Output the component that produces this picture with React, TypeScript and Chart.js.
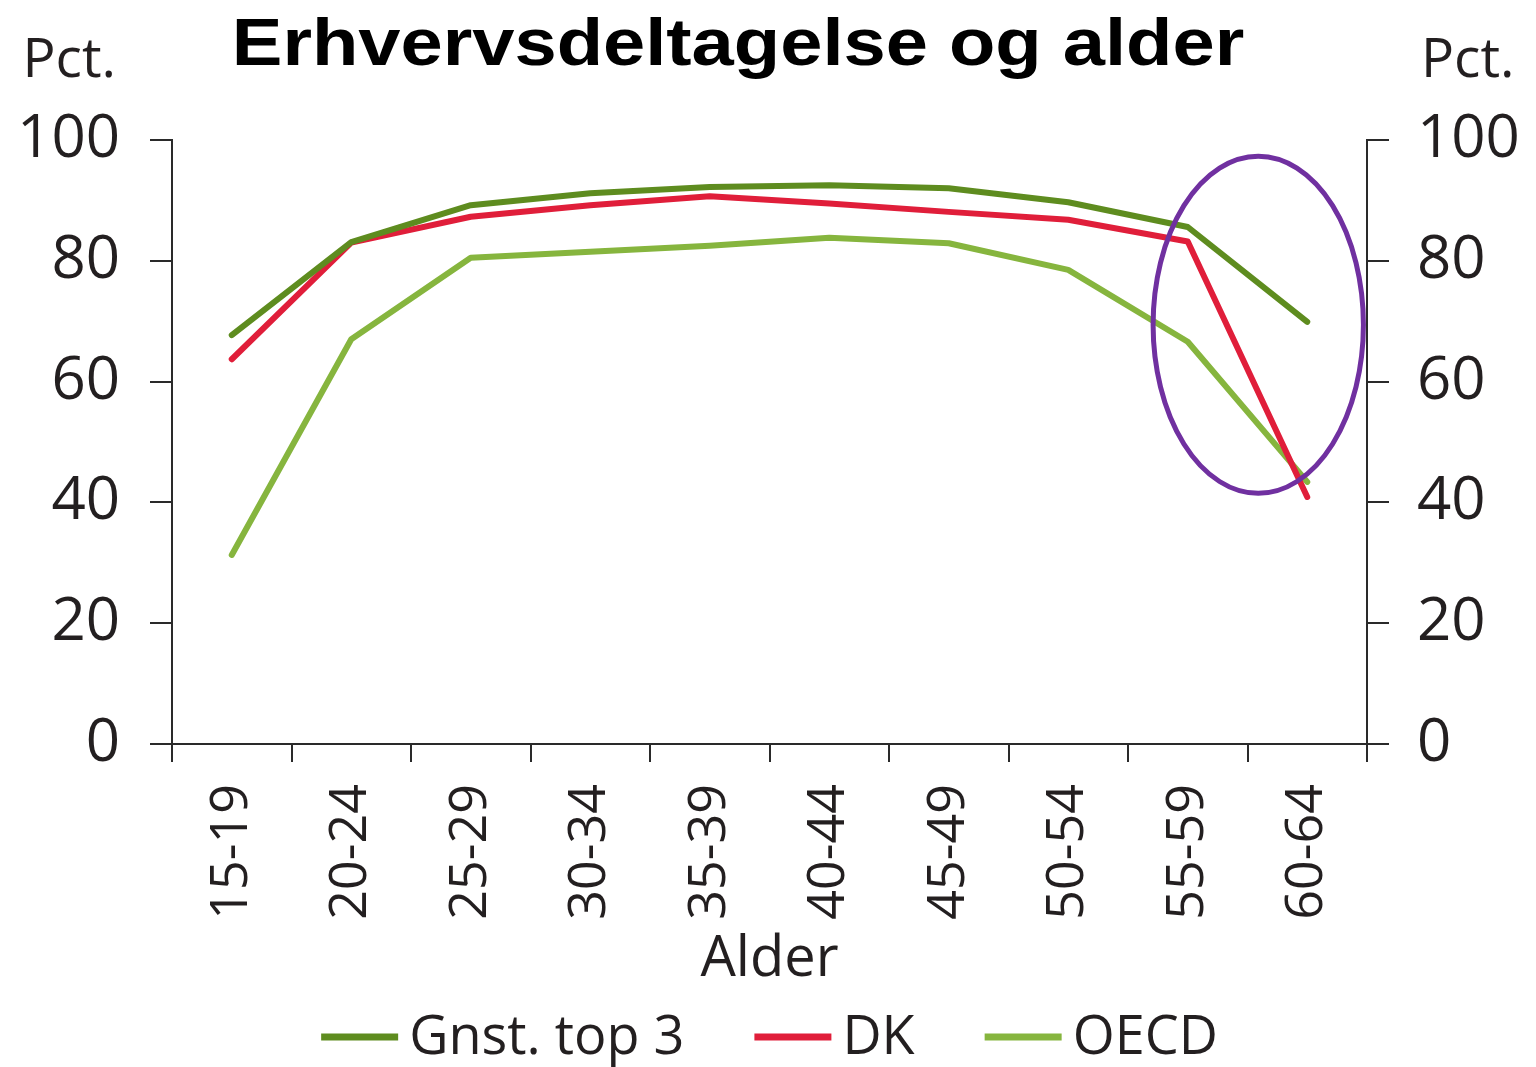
import React, { useEffect, useRef } from "react";
import { Chart, registerables } from "chart.js";

Chart.register(...registerables);

const chartTitle = "Erhvervsdeltagelse og alder";
const unitLabel = "Pct.";
const xAxisTitle = "Alder";
const categories = ["15-19", "20-24", "25-29", "30-34", "35-39", "40-44", "45-49", "50-54", "55-59", "60-64"];
const seriesNames = ["Gnst. top 3", "DK", "OECD"];
const gnstTop3 = [67.7, 83.1, 89.2, 91.2, 92.2, 92.5, 92.0, 89.7, 85.6, 69.9];
const dk = [63.7, 83.0, 87.3, 89.2, 90.7, 89.5, 88.1, 86.8, 83.2, 40.9];
const oecd = [31.3, 67.0, 80.5, 81.5, 82.5, 83.8, 82.9, 78.5, 66.6, 43.4];
const yMin = 0;
const yMax = 100;
const yStep = 20;
// highlight ellipse in data units: center category index, center value, radii
const ellipseCenterIndex = [8.59];
const ellipseCenterValue = [69.4];
const ellipseRadiusIndex = [0.88];
const ellipseRadiusValue = [27.9];

const colors = ["#5E8C1F", "#E01E3A", "#86B53E"];
const textColor = "#231F20";
const axisColor = "#2a2a2a";
const FONT = "'Open Sans', 'Noto Sans', sans-serif";

const overlayPlugin = {
  id: "overlay",
  afterDatasetsDraw(chart: any) {
    const ctx = chart.ctx;
    const x = chart.scales.x;
    const y = chart.scales.y;
    ctx.save();
    ctx.strokeStyle = "#7030A0";
    ctx.lineWidth = 5;
    for (let i = 0; i < ellipseCenterIndex.length; i++) {
      const cx = x.getPixelForValue(ellipseCenterIndex[i]);
      const cy = y.getPixelForValue(ellipseCenterValue[i]);
      const rx = Math.abs(x.getPixelForValue(ellipseCenterIndex[i] + ellipseRadiusIndex[i]) - cx);
      const ry = Math.abs(y.getPixelForValue(ellipseCenterValue[i] + ellipseRadiusValue[i]) - cy);
      ctx.beginPath();
      ctx.ellipse(cx, cy, rx, ry, 0, 0, Math.PI * 2);
      ctx.stroke();
    }
    ctx.restore();
  },
  afterDraw(chart: any) {
    const ctx = chart.ctx;
    const area = chart.chartArea;
    ctx.save();
    // Title (wide bold sans)
    ctx.fillStyle = "#000";
    ctx.font = "bold 66px 'Liberation Sans', Arial, sans-serif";
    ctx.textBaseline = "alphabetic";
    ctx.textAlign = "center";
    const sx = 1.15;
    ctx.save();
    ctx.translate(738, 65);
    ctx.scale(sx, 1);
    ctx.fillText(chartTitle, 0, 0);
    ctx.restore();

    // Unit labels
    ctx.fillStyle = textColor;
    ctx.font = `55px ${FONT}`;
    ctx.textAlign = "right";
    ctx.fillText(unitLabel, 116, 77);
    ctx.textAlign = "left";
    ctx.fillText(unitLabel, 1421, 77);

    // Legend
    const lineLen = 77;
    const gapText = 11;
    const gapItem = 70;
    ctx.font = `54px ${FONT}`;
    const items = chart.data.datasets.map((d: any) => ({
      label: d.label,
      color: d.borderColor,
      w: ctx.measureText(d.label).width,
    }));
    let total = 0;
    items.forEach((it: any, i: number) => {
      total += lineLen + gapText + it.w + (i < items.length - 1 ? gapItem : 0);
    });
    let lx = (area.left + area.right) / 2 - total / 2;
    const ly = 1037;
    items.forEach((it: any) => {
      ctx.strokeStyle = it.color;
      ctx.lineWidth = 7;
      ctx.lineCap = "butt";
      ctx.beginPath();
      ctx.moveTo(lx, ly);
      ctx.lineTo(lx + lineLen, ly);
      ctx.stroke();
      ctx.fillStyle = textColor;
      ctx.textAlign = "left";
      ctx.textBaseline = "middle";
      ctx.fillText(it.label, lx + lineLen + gapText, ly + 2);
      lx += lineLen + gapText + it.w + gapItem;
    });
    ctx.restore();
  },
};

export default function App() {
  const ref = useRef<HTMLCanvasElement | null>(null);
  useEffect(() => {
    document.body.style.margin = "0";
    const canvas = ref.current;
    if (!canvas) return;
    const values = [gnstTop3, dk, oecd];
    const chart = new Chart(canvas, {
      type: "line",
      data: {
        labels: categories,
        datasets: values.map((v, i) => ({
          label: seriesNames[i],
          data: v,
          borderColor: colors[i],
          backgroundColor: colors[i],
          borderWidth: 6,
          pointRadius: 0,
          tension: 0,
          fill: false,
          borderCapStyle: "round" as const,
          borderJoinStyle: "round" as const,
          yAxisID: "y",
        })),
      },
      options: {
        animation: false,
        responsive: false,
        maintainAspectRatio: false,
        layout: { padding: { top: 140, bottom: 73, left: 0, right: 0 } },
        plugins: {
          legend: { display: false },
          title: { display: false },
          tooltip: { enabled: false },
        },
        scales: {
          x: {
            type: "category",
            offset: true,
            grid: {
              offset: true,
              drawOnChartArea: false,
              drawTicks: true,
              tickLength: 18,
              color: axisColor,
              lineWidth: 2,
            },
            border: { display: true, color: axisColor, width: 2 },
            ticks: {
              autoSkip: false,
              minRotation: 90,
              maxRotation: 90,
              padding: 22,
              color: textColor,
              font: { family: FONT, size: 52 },
            },
            title: {
              display: true,
              text: xAxisTitle,
              color: textColor,
              font: { family: FONT, size: 56 },
              padding: { top: 0, bottom: 0 },
            },
            afterFit: (s: any) => {
              s.height = 250;
            },
          },
          y: {
            type: "linear",
            position: "left",
            min: yMin,
            max: yMax,
            ticks: {
              stepSize: yStep,
              padding: 30,
              color: textColor,
              font: { family: FONT, size: 60 },
            },
            grid: {
              drawOnChartArea: false,
              drawTicks: true,
              tickLength: 22,
              color: axisColor,
              lineWidth: 2,
            },
            border: { display: true, color: axisColor, width: 2 },
            afterFit: (s: any) => {
              s.width = 172;
            },
          },
          y2: {
            type: "linear",
            position: "right",
            min: yMin,
            max: yMax,
            ticks: {
              stepSize: yStep,
              padding: 28,
              color: textColor,
              font: { family: FONT, size: 60 },
            },
            grid: {
              drawOnChartArea: false,
              drawTicks: true,
              tickLength: 22,
              color: axisColor,
              lineWidth: 2,
            },
            border: { display: true, color: axisColor, width: 2 },
            afterFit: (s: any) => {
              s.width = 169;
            },
          },
        },
      },
      plugins: [overlayPlugin],
    });
    return () => chart.destroy();
  }, []);
  return (
    <canvas
      ref={ref}
      width={1536}
      height={1067}
      style={{ display: "block", width: 1536, height: 1067 }}
    />
  );
}
